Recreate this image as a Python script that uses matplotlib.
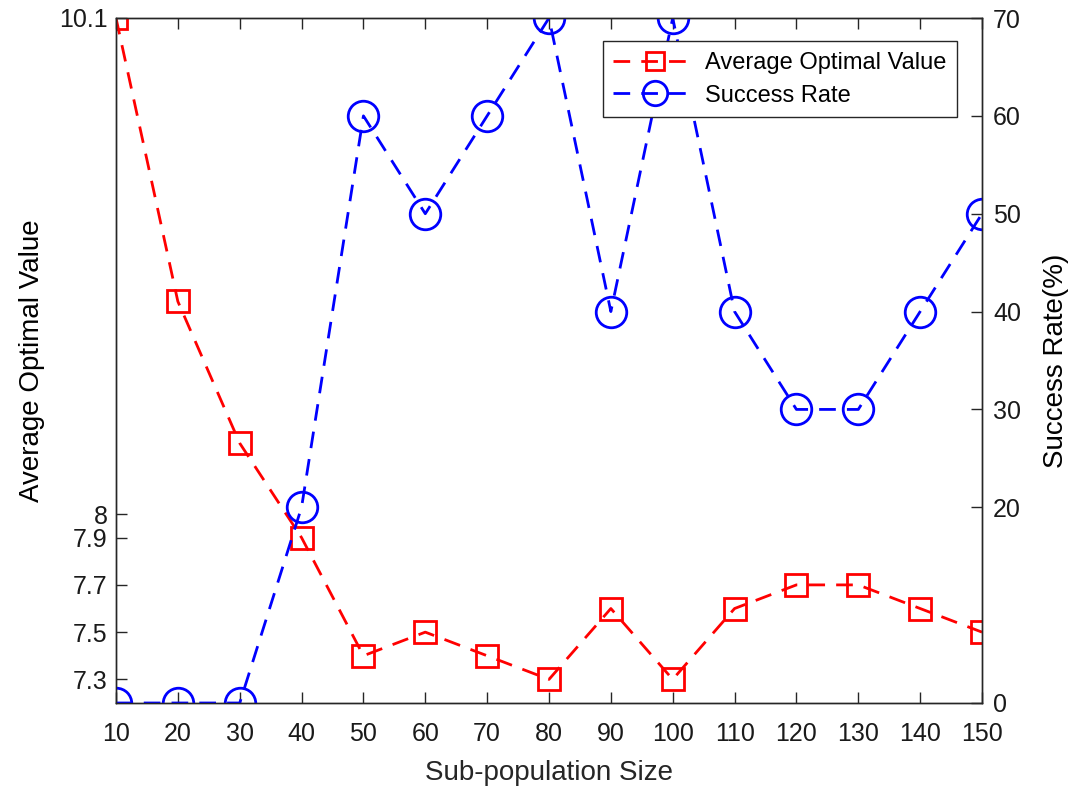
import matplotlib
matplotlib.use('Agg')
import matplotlib.pyplot as plt

plt.rcParams['font.family'] = ['Liberation Sans', 'DejaVu Sans']

# Data
sizes = [10, 20, 30, 40, 50, 60, 70, 80, 90, 100, 110, 120, 130, 140, 150]
avg_optimal = [10.1, 8.9, 8.3, 7.9, 7.4, 7.5, 7.4, 7.3, 7.6, 7.3, 7.6, 7.7, 7.7, 7.6, 7.5]
success_rate = [0, 0, 0, 20, 60, 50, 60, 70, 40, 70, 40, 30, 30, 40, 50]

left_ticks = [7.3, 7.5, 7.7, 7.9, 8, 10.1]
left_ticklabels = ['7.3', '7.5', '7.7', '7.9', '8', '10.1']
right_ticks = [0, 20, 30, 40, 50, 60, 70]

fig = plt.figure(figsize=(10.83, 7.88), dpi=100)
ax1 = fig.add_axes([116 / 1083, 85 / 788, 866 / 1083, 685 / 788])
ax2 = ax1.twinx()

dash = (6, 4)
l1, = ax1.plot(sizes, avg_optimal, color='#ff0000', linestyle='--', dashes=dash,
               linewidth=2, marker='s', markersize=16, markerfacecolor='none',
               markeredgewidth=2, label='Average Optimal Value')
l2, = ax2.plot(sizes, success_rate, color='#0000ff', linestyle='--', dashes=dash,
               linewidth=2, marker='o', markersize=22, markerfacecolor='none',
               markeredgewidth=2, label='Success Rate')

ax1.set_xlim(10, 150)
ax1.set_ylim(7.2, 10.1)
ax2.set_ylim(0, 70)
ax1.set_xticks(sizes)
ax1.set_yticks(left_ticks)
ax1.set_yticklabels(left_ticklabels)
ax2.set_yticks(right_ticks)

for ax in (ax1, ax2):
    ax.tick_params(direction='in', length=8, width=1, labelsize=18, colors='#262626',
                   top=True)
    for s in ax.spines.values():
        s.set_color('#262626')
        s.set_linewidth(1)
ax1.tick_params(axis='x', pad=14)
ax1.tick_params(axis='y', pad=6)
ax2.tick_params(axis='y', pad=8)
for lab in ax1.get_xticklabels() + ax1.get_yticklabels() + ax2.get_yticklabels():
    lab.set_color('#1a1a1a')

ax1.set_xlabel('Sub-population Size', fontsize=20, color='#262626', labelpad=10)
ax1.set_ylabel('Average Optimal Value', fontsize=20, color='black', labelpad=10)
ax2.set_ylabel('Success Rate(%)', fontsize=20, color='black', labelpad=16)

leg = ax2.legend(handles=[l1, l2], loc='upper right', bbox_to_anchor=(0.9715, 0.966),
                 fontsize=17, fancybox=False, framealpha=1, edgecolor='#262626',
                 borderpad=0.45, labelspacing=0.45, handlelength=3.5, handletextpad=0.4,
                 markerscale=0.8, borderaxespad=0)
leg.get_frame().set_linewidth(1)

plt.savefig('out.png', dpi=100)
